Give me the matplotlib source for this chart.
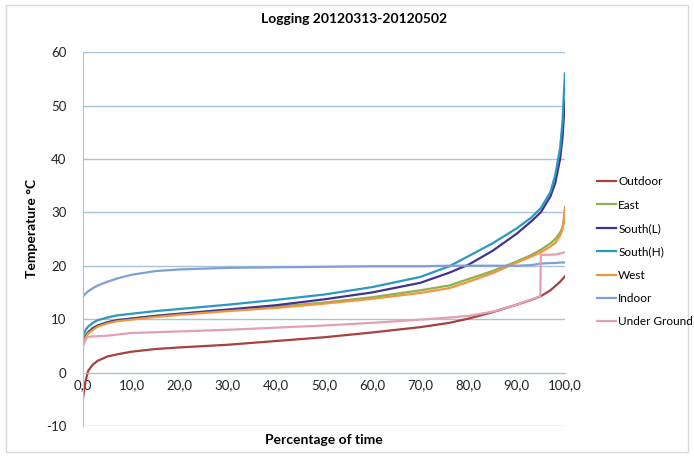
"""
Courbes de duree des temperatures (logging 20120313-20120502).
"""
import matplotlib; matplotlib.use("Agg"); import matplotlib.pyplot as plt

plt.rcParams["font.family"] = ["Lato", "DejaVu Sans"]
plt.rcParams["axes.unicode_minus"] = False

# Points de la courbe (pourcentage du temps) et temperatures lues
pct = [0, 0.5, 1, 2, 3, 5, 7, 10, 15, 20, 30, 40, 50, 60, 70, 76, 80, 85, 90, 93, 95, 97, 98, 99, 99.5, 100]
outdoor = [-4.5, -1.5, 0.3, 1.5, 2.2, 3.0, 3.4, 3.9, 4.4, 4.7, 5.2, 5.9, 6.6, 7.5, 8.5, 9.3, 10.1, 11.3, 12.7, 13.6, 14.3, 15.4, 16.2, 17.0, 17.5, 18.0]
east = [6.0, 7.0, 7.6, 8.3, 8.8, 9.4, 9.8, 10.1, 10.6, 11.0, 11.7, 12.3, 13.1, 14.1, 15.4, 16.3, 17.5, 19.0, 20.8, 22.0, 23.0, 24.2, 25.0, 26.2, 27.2, 28.5]
south_l = [5.5, 6.8, 7.5, 8.3, 8.8, 9.4, 9.8, 10.1, 10.6, 11.0, 11.8, 12.6, 13.7, 15.0, 16.8, 18.7, 20.2, 22.8, 26.0, 28.3, 30.0, 33.0, 35.5, 40.0, 44.0, 51.0]
south_h = [7.0, 8.0, 8.6, 9.3, 9.8, 10.3, 10.7, 11.0, 11.5, 11.9, 12.7, 13.6, 14.6, 16.0, 17.9, 19.9, 21.8, 24.2, 27.0, 29.0, 30.8, 33.8, 37.0, 42.0, 47.0, 56.0]
west = [5.5, 6.6, 7.3, 8.0, 8.6, 9.2, 9.6, 9.9, 10.4, 10.8, 11.5, 12.1, 12.9, 13.8, 14.9, 15.8, 17.0, 18.6, 20.6, 21.7, 22.5, 23.6, 24.3, 25.6, 26.8, 31.0]
indoor = [14.3, 14.8, 15.2, 15.8, 16.3, 17.0, 17.6, 18.3, 19.0, 19.3, 19.6, 19.7, 19.8, 19.9, 19.9, 20.0, 20.0, 20.0, 20.0, 20.1, 20.4, 20.5, 20.5, 20.6, 20.6, 20.6]
under_pct = [0, 0.5, 1, 3, 5, 10, 20, 30, 40, 50, 60, 70, 76, 80, 85, 90, 94.9, 95.0, 98, 100]
under_ground = [5.0, 6.2, 6.7, 6.8, 6.9, 7.4, 7.7, 8.0, 8.4, 8.8, 9.3, 9.9, 10.3, 10.6, 11.4, 12.7, 14.3, 22.0, 22.1, 22.5]

series = [
    ("Outdoor", pct, outdoor, "#a8403f"),
    ("East", pct, east, "#8fb04e"),
    ("South(L)", pct, south_l, "#3f3590"),
    ("South(H)", pct, south_h, "#2b98bf"),
    ("West", pct, west, "#f0963f"),
    ("Indoor", pct, indoor, "#7f9fd6"),
    ("Under Ground", under_pct, under_ground, "#e4a0b2"),
]

fig = plt.figure(figsize=(6.94, 4.57), dpi=100)
ax = fig.add_axes([0.12, 0.068, 0.694, 0.818])
for name, xs, ys, c in series:
    ax.plot(xs, ys, color=c, lw=1.6, label=name)

ax.set_xlim(0, 100); ax.set_ylim(-10, 60)
ax.set_xticks(range(0, 101, 10))
ax.set_xticklabels([f"{v},0" for v in range(0, 101, 10)])
ax.set_yticks(range(-10, 61, 10))
ax.yaxis.grid(True, color="#a9c3d6", lw=1)
ax.set_axisbelow(True)
for s in ["top", "right"]: ax.spines[s].set_visible(False)
ax.spines["bottom"].set_position(("data", 0))
ax.spines["bottom"].set_color("#a9c3d6")
ax.spines["left"].set_color("#a9c3d6")
ax.tick_params(axis="both", length=0, labelsize=9.5, colors="#222222")
ax.tick_params(axis="x", pad=5)
ax.tick_params(axis="y", pad=12)

fig.text(0.51, 0.958, "Logging 20120313-20120502", ha="center", va="center", fontsize=10, fontweight="bold")
fig.text(0.046, 0.50, "Temperature °C", rotation=90, ha="center", va="center", fontsize=10, fontweight="bold")
fig.text(0.466, 0.037, "Percentage of time", ha="center", va="center", fontsize=10, fontweight="bold")

leg = fig.legend(loc="center left", bbox_to_anchor=(0.845, 0.449), frameon=False, fontsize=8.5,
                 handlelength=1.6, handletextpad=0.2, labelspacing=1.05)

fig.patches.append(plt.Rectangle((0.008, 0.01), 0.984, 0.98, transform=fig.transFigure,
                                 fill=False, edgecolor="#d9d9d9", lw=1))
plt.savefig("out.png", dpi=100)
